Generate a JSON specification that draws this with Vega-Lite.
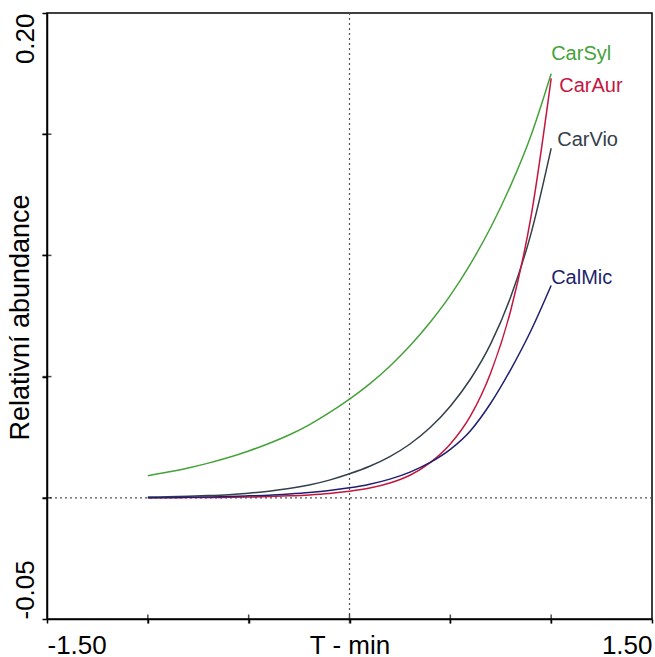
{
  "$schema": "https://vega.github.io/schema/vega-lite/v6.json",
  "width": 605,
  "height": 606,
  "autosize": {"type": "none"},
  "padding": {"left": 47, "top": 13, "right": 3, "bottom": 38},
  "background": "white",
  "config": {
    "view": {"stroke": "#000", "strokeWidth": 1.5},
    "font": "Liberation Sans"
  },
  "datasets": {
    "curves": [
      {"series": "CarSyl", "x": -1.0, "y": 0.0091},
      {"series": "CarSyl", "x": -0.9, "y": 0.0106},
      {"series": "CarSyl", "x": -0.8, "y": 0.0123},
      {"series": "CarSyl", "x": -0.7, "y": 0.0143},
      {"series": "CarSyl", "x": -0.6, "y": 0.0166},
      {"series": "CarSyl", "x": -0.5, "y": 0.0193},
      {"series": "CarSyl", "x": -0.4, "y": 0.0224},
      {"series": "CarSyl", "x": -0.3, "y": 0.0259},
      {"series": "CarSyl", "x": -0.2, "y": 0.0301},
      {"series": "CarSyl", "x": -0.1, "y": 0.0351},
      {"series": "CarSyl", "x": 0.0, "y": 0.0407},
      {"series": "CarSyl", "x": 0.1, "y": 0.0470},
      {"series": "CarSyl", "x": 0.2, "y": 0.0543},
      {"series": "CarSyl", "x": 0.3, "y": 0.0627},
      {"series": "CarSyl", "x": 0.4, "y": 0.0724},
      {"series": "CarSyl", "x": 0.5, "y": 0.0835},
      {"series": "CarSyl", "x": 0.6, "y": 0.0965},
      {"series": "CarSyl", "x": 0.7, "y": 0.1115},
      {"series": "CarSyl", "x": 0.8, "y": 0.1290},
      {"series": "CarSyl", "x": 0.9, "y": 0.1495},
      {"series": "CarSyl", "x": 1.0, "y": 0.1750},
      {"series": "CarVio", "x": -1.0, "y": 0.0003},
      {"series": "CarVio", "x": -0.9, "y": 0.0004},
      {"series": "CarVio", "x": -0.8, "y": 0.0006},
      {"series": "CarVio", "x": -0.7, "y": 0.0009},
      {"series": "CarVio", "x": -0.6, "y": 0.0013},
      {"series": "CarVio", "x": -0.5, "y": 0.0019},
      {"series": "CarVio", "x": -0.4, "y": 0.0027},
      {"series": "CarVio", "x": -0.3, "y": 0.0038},
      {"series": "CarVio", "x": -0.2, "y": 0.0053},
      {"series": "CarVio", "x": -0.1, "y": 0.0073},
      {"series": "CarVio", "x": 0.0, "y": 0.0099},
      {"series": "CarVio", "x": 0.1, "y": 0.0130},
      {"series": "CarVio", "x": 0.2, "y": 0.0170},
      {"series": "CarVio", "x": 0.3, "y": 0.0222},
      {"series": "CarVio", "x": 0.4, "y": 0.0290},
      {"series": "CarVio", "x": 0.5, "y": 0.0378},
      {"series": "CarVio", "x": 0.6, "y": 0.0490},
      {"series": "CarVio", "x": 0.7, "y": 0.0635},
      {"series": "CarVio", "x": 0.8, "y": 0.0830},
      {"series": "CarVio", "x": 0.9, "y": 0.1090},
      {"series": "CarVio", "x": 1.0, "y": 0.1442},
      {"series": "CarAur", "x": -1.0, "y": 0.0},
      {"series": "CarAur", "x": -0.9, "y": 0.0},
      {"series": "CarAur", "x": -0.8, "y": 0.0001},
      {"series": "CarAur", "x": -0.7, "y": 0.0001},
      {"series": "CarAur", "x": -0.6, "y": 0.0002},
      {"series": "CarAur", "x": -0.5, "y": 0.0003},
      {"series": "CarAur", "x": -0.4, "y": 0.0005},
      {"series": "CarAur", "x": -0.3, "y": 0.0008},
      {"series": "CarAur", "x": -0.2, "y": 0.0012},
      {"series": "CarAur", "x": -0.1, "y": 0.0018},
      {"series": "CarAur", "x": 0.0, "y": 0.0027},
      {"series": "CarAur", "x": 0.1, "y": 0.0040},
      {"series": "CarAur", "x": 0.2, "y": 0.0061},
      {"series": "CarAur", "x": 0.3, "y": 0.0093},
      {"series": "CarAur", "x": 0.4, "y": 0.0145},
      {"series": "CarAur", "x": 0.5, "y": 0.0222},
      {"series": "CarAur", "x": 0.6, "y": 0.0338},
      {"series": "CarAur", "x": 0.7, "y": 0.0515},
      {"series": "CarAur", "x": 0.8, "y": 0.0775},
      {"series": "CarAur", "x": 0.9, "y": 0.1160},
      {"series": "CarAur", "x": 1.0, "y": 0.1730},
      {"series": "CalMic", "x": -1.0, "y": 0.0},
      {"series": "CalMic", "x": -0.9, "y": 0.0001},
      {"series": "CalMic", "x": -0.8, "y": 0.0002},
      {"series": "CalMic", "x": -0.7, "y": 0.0003},
      {"series": "CalMic", "x": -0.6, "y": 0.0005},
      {"series": "CalMic", "x": -0.5, "y": 0.0008},
      {"series": "CalMic", "x": -0.4, "y": 0.0011},
      {"series": "CalMic", "x": -0.3, "y": 0.0016},
      {"series": "CalMic", "x": -0.2, "y": 0.0022},
      {"series": "CalMic", "x": -0.1, "y": 0.0030},
      {"series": "CalMic", "x": 0.0, "y": 0.0041},
      {"series": "CalMic", "x": 0.1, "y": 0.0056},
      {"series": "CalMic", "x": 0.2, "y": 0.0077},
      {"series": "CalMic", "x": 0.3, "y": 0.0106},
      {"series": "CalMic", "x": 0.4, "y": 0.0146},
      {"series": "CalMic", "x": 0.5, "y": 0.0200},
      {"series": "CalMic", "x": 0.6, "y": 0.0277},
      {"series": "CalMic", "x": 0.7, "y": 0.0390},
      {"series": "CalMic", "x": 0.8, "y": 0.0530},
      {"series": "CalMic", "x": 0.9, "y": 0.0690},
      {"series": "CalMic", "x": 1.0, "y": 0.0876}
    ],
    "labels": [
      {"series": "CarSyl", "x": 1.0, "y": 0.1829},
      {"series": "CarAur", "x": 1.04, "y": 0.170},
      {"series": "CarVio", "x": 1.03, "y": 0.1475},
      {"series": "CalMic", "x": 1.0, "y": 0.0907}
    ],
    "refx": [{"x": 0}],
    "refy": [{"y": 0}],
    "xticks": [{"v": -1}, {"v": -0.5}, {"v": 0}, {"v": 0.5}, {"v": 1}],
    "yticks": [{"v": 0}, {"v": 0.05}, {"v": 0.1}, {"v": 0.15}]
  },
  "layer": [
    {
      "data": {"name": "refx"},
      "mark": {"type": "rule", "color": "#555", "strokeDash": [2, 3], "strokeWidth": 1.2},
      "encoding": {"x": {"field": "x", "type": "quantitative", "scale": {"domain": [-1.5, 1.5], "nice": false, "zero": false}}}
    },
    {
      "data": {"name": "refy"},
      "mark": {"type": "rule", "color": "#555", "strokeDash": [2, 3], "strokeWidth": 1.2},
      "encoding": {"y": {"field": "y", "type": "quantitative", "scale": {"domain": [-0.05, 0.2], "nice": false, "zero": false}}}
    },
    {
      "data": {"name": "curves"},
      "mark": {"type": "line", "interpolate": "monotone", "strokeWidth": 1.5},
      "encoding": {
        "x": {
          "field": "x", "type": "quantitative",
          "scale": {"domain": [-1.5, 1.5], "nice": false, "zero": false},
          "axis": {
            "values": [-1.5, -1, -0.5, 0, 0.5, 1, 1.5],
            "labelExpr": "datum.value < -1.4 ? '-1.50' : (datum.value > 1.4 ? '1.50' : '')",
            "labelFlush": true,
            "labelFontSize": 26,
            "labelColor": "#000",
            "labelFont": "Liberation Sans",
            "labelBaseline": "top",
            "labelPadding": 9,
            "tickSize": 4,
            "tickColor": "#000",
            "tickWidth": 1.5,
            "domainColor": "#000",
            "domainWidth": 1.5,
            "grid": false,
            "title": "T - min",
            "titleFont": "Liberation Sans",
            "titleFontSize": 26,
            "titleFontWeight": "normal",
            "titleColor": "#000",
            "titleBaseline": "top",
            "titleY": 13
          }
        },
        "y": {
          "field": "y", "type": "quantitative",
          "scale": {"domain": [-0.05, 0.2], "nice": false, "zero": false},
          "axis": {
            "values": [-0.05, 0, 0.05, 0.1, 0.15, 0.2],
            "labelExpr": "datum.value < -0.04 ? '-0.05' : (datum.value > 0.19 ? '0.20' : '')",
            "labelAngle": -90,
            "labelAlign": {"condition": {"test": "datum.value > 0.1", "value": "right"}, "value": "left"},
            "labelBaseline": "alphabetic",
            "labelFontSize": 26,
            "labelColor": "#000",
            "labelFont": "Liberation Sans",
            "labelPadding": 9,
            "tickSize": 5,
            "tickColor": "#000",
            "tickWidth": 1.5,
            "domainColor": "#000",
            "domainWidth": 1.5,
            "grid": false,
            "title": "Relativní abundance",
            "titleFont": "Liberation Sans",
            "titleFontSize": 27,
            "titleFontWeight": "normal",
            "titleColor": "#000",
            "titleAngle": -90,
            "titleAlign": "center",
            "titleBaseline": "alphabetic",
            "titleX": -19,
            "titleY": 304
          }
        },
        "color": {
          "field": "series", "type": "nominal",
          "scale": {"domain": ["CarSyl", "CarAur", "CarVio", "CalMic"], "range": ["#45a23a", "#c4163f", "#33404a", "#1f1f70"]},
          "legend": null
        },
        "detail": {"field": "series"}
      }
    },
    {
      "data": {"name": "xticks"},
      "mark": {"type": "tick", "orient": "vertical", "size": 9, "thickness": 1.5, "color": "#000"},
      "encoding": {
        "x": {"field": "v", "type": "quantitative"},
        "y": {"datum": -0.05, "type": "quantitative"}
      }
    },
    {
      "data": {"name": "yticks"},
      "mark": {"type": "tick", "orient": "horizontal", "size": 9, "thickness": 1.5, "color": "#000"},
      "encoding": {
        "y": {"field": "v", "type": "quantitative"},
        "x": {"datum": -1.5, "type": "quantitative"}
      }
    },
    {
      "data": {"name": "labels"},
      "mark": {"type": "text", "align": "left", "baseline": "middle", "fontSize": 20, "font": "Liberation Sans"},
      "encoding": {
        "x": {"field": "x", "type": "quantitative"},
        "y": {"field": "y", "type": "quantitative"},
        "text": {"field": "series"},
        "color": {"field": "series", "type": "nominal", "legend": null}
      }
    }
  ]
}
